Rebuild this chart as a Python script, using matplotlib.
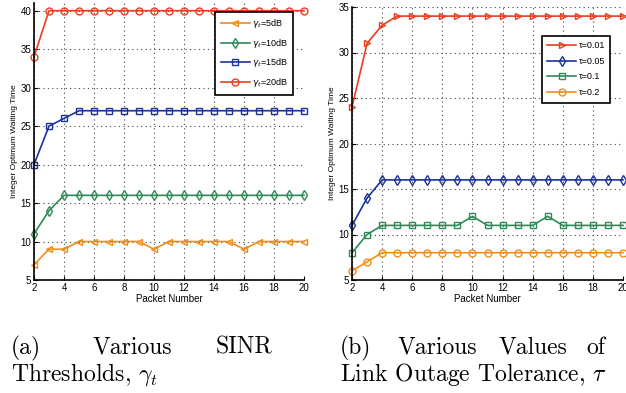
import matplotlib
matplotlib.use("Agg")
import matplotlib.pyplot as plt
from matplotlib.font_manager import FontProperties

plt.rcParams['font.family'] = ['Liberation Sans', 'DejaVu Sans']
plt.rcParams['mathtext.fontset'] = 'cm'

# data
packets = list(range(2, 21))

snr_labels = ['$\\gamma_t$=5dB', '$\\gamma_t$=10dB', '$\\gamma_t$=15dB', '$\\gamma_t$=20dB']
snr_5db = [7, 9, 9, 10, 10, 10, 10, 10, 9, 10, 10, 10, 10, 10, 9, 10, 10, 10, 10]
snr_10db = [11, 14, 16, 16, 16, 16, 16, 16, 16, 16, 16, 16, 16, 16, 16, 16, 16, 16, 16]
snr_15db = [20, 25, 26, 27, 27, 27, 27, 27, 27, 27, 27, 27, 27, 27, 27, 27, 27, 27, 27]
snr_20db = [34, 40, 40, 40, 40, 40, 40, 40, 40, 40, 40, 40, 40, 40, 40, 40, 40, 40, 40]

tau_labels = ['\u03c4=0.01', '\u03c4=0.05', '\u03c4=0.1', '\u03c4=0.2']
tau_001 = [24, 31, 33, 34, 34, 34, 34, 34, 34, 34, 34, 34, 34, 34, 34, 34, 34, 34, 34]
tau_005 = [11, 14, 16, 16, 16, 16, 16, 16, 16, 16, 16, 16, 16, 16, 16, 16, 16, 16, 16]
tau_01 = [8, 10, 11, 11, 11, 11, 11, 11, 12, 11, 11, 11, 11, 12, 11, 11, 11, 11, 11]
tau_02 = [6, 7, 8, 8, 8, 8, 8, 8, 8, 8, 8, 8, 8, 8, 8, 8, 8, 8, 8]

orange = '#EE8E1C'
green = '#2E8B57'
blue = '#1C3399'
red = '#E8401C'

W, H = 626, 393
fig = plt.figure(figsize=(W / 100, H / 100), dpi=100)


def setup_axes(ax, ylim, yticks):
    ax.set_xlim(2, 20)
    ax.set_ylim(*ylim)
    ax.set_xticks(range(2, 21, 2))
    ax.set_yticks(yticks)
    ax.grid(True, linestyle=(0, (1, 3)), color='#444444', linewidth=0.8)
    for s in ['top', 'right']:
        ax.spines[s].set_visible(False)
    ax.spines['left'].set_linewidth(1.2)
    ax.spines['bottom'].set_linewidth(1.2)
    ax.tick_params(direction='in', labelsize=7, length=3, pad=2)
    ax.set_xlabel('Packet Number', fontsize=7, labelpad=1)
    ax.set_ylabel('Integer Optimum Waiting Time', fontsize=6, labelpad=2)


leg_prop = FontProperties(family='Liberation Sans', size=6.5, math_fontfamily='dejavusans')

# (a) SINR thresholds
ax1 = fig.add_axes([34 / W, 1 - 280 / H, 270 / W, 277 / H])
setup_axes(ax1, (5, 41), range(5, 41, 5))
for vals, m, c, lab in zip([snr_5db, snr_10db, snr_15db, snr_20db], ['<', 'd', 's', 'o'],
                           [orange, green, blue, red], snr_labels):
    ax1.plot(packets, vals, marker=m, color=c, mfc='none', ms=5, lw=1.2, mew=1, label=lab,
             clip_on=False)
leg1 = ax1.legend(loc='upper right', bbox_to_anchor=(298 / W, 1 - 7 / H),
                  bbox_transform=fig.transFigure, prop=leg_prop, fancybox=False,
                  edgecolor='black', framealpha=1, handlelength=3.2, borderpad=0.6,
                  labelspacing=0.75, handletextpad=0.3)
leg1.get_frame().set_linewidth(1.2)

# (b) link outage tolerance
ax2 = fig.add_axes([352 / W, 1 - 280 / H, 271 / W, 273 / H])
setup_axes(ax2, (5, 35), range(5, 36, 5))
for vals, m, c, lab in zip([tau_001, tau_005, tau_01, tau_02], ['>', 'd', 's', 'o'],
                           [red, blue, green, orange], tau_labels):
    ax2.plot(packets, vals, marker=m, color=c, mfc='none', ms=5, lw=1.2, mew=1, label=lab,
             clip_on=False)
leg2 = ax2.legend(loc='upper right', bbox_to_anchor=(615 / W, 1 - 31 / H),
                  bbox_transform=fig.transFigure, prop=leg_prop, fancybox=False,
                  edgecolor='black', framealpha=1, handlelength=3.2, borderpad=0.6,
                  labelspacing=0.75, handletextpad=0.3)
leg2.get_frame().set_linewidth(1.2)

# captions (justified first lines, word by word)
cap = dict(family='cmr10', fontsize=17, va='baseline', transform=fig.transFigure)
y1 = 1 - 354 / H
y2 = 1 - 381 / H
fig.text(11 / W, y1, '(a)', ha='left', **cap)
fig.text(132 / W, y1, 'Various', ha='center', **cap)
fig.text(272 / W, y1, 'SINR', ha='right', **cap)
fig.text(11 / W, y2, 'Thresholds, $\\gamma_t$', ha='left', **cap)
fig.text(340 / W, y1, '(b)', ha='left', **cap)
fig.text(437 / W, y1, 'Various', ha='center', **cap)
fig.text(533 / W, y1, 'Values', ha='center', **cap)
fig.text(605 / W, y1, 'of', ha='right', **cap)
fig.text(340 / W, y2, 'Link Outage Tolerance, $\\tau$', ha='left', **cap)

fig.savefig('out.png', dpi=100)
